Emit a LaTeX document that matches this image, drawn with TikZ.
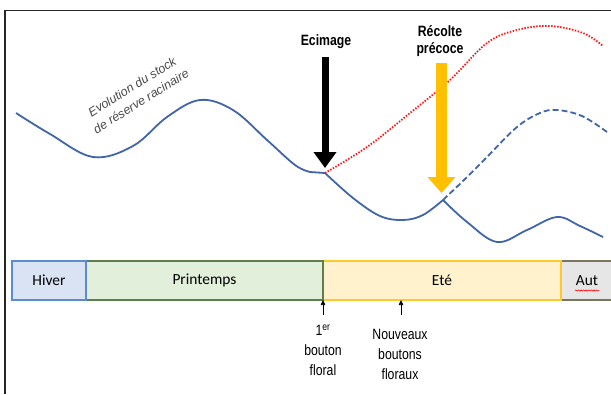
\documentclass[tikz,border=0pt]{standalone}
\usepackage{fontspec}
\setmainfont{Liberation Sans}
\newfontfamily\narrowf[FakeStretch=0.82]{Liberation Sans}
\newfontfamily\carl{Carlito}
\usetikzlibrary{arrows.meta,decorations.pathmorphing}
\definecolor{cblue}{HTML}{4066A8}
\definecolor{cred}{HTML}{FF1A1A}
\definecolor{corange}{HTML}{FFC000}
\definecolor{txtgray}{HTML}{4A4A4A}
\definecolor{hfill}{HTML}{DAE3F3}
\definecolor{hdraw}{HTML}{5B8BD0}
\definecolor{pfill}{HTML}{E2EFDA}
\definecolor{pdraw}{HTML}{5E7F4A}
\definecolor{efill}{HTML}{FFF2CC}
\definecolor{edraw}{HTML}{FFC92E}
\definecolor{afill}{HTML}{E7E6E6}
\definecolor{adraw}{HTML}{7A7460}
\tikzset{
  curve/.style={line width=1.8bp, line join=round},
  season/.style={line width=1.3bp, minimum height=39bp, inner sep=0pt, outer sep=0pt,
    font=\carl\fontsize{15.5}{18}\selectfont},
  boldlab/.style={font=\narrowf\bfseries\fontsize{15}{17}\selectfont, align=center, inner sep=0pt},
  smalllab/.style={font=\narrowf\fontsize{15}{20}\selectfont, align=center, inner sep=0pt},
  smallarrow/.style={line width=0.6bp, -{Triangle[length=5bp,width=4.5bp]}}
}
\begin{document}
\begin{tikzpicture}[x=1bp,y=-1bp]
\useasboundingbox (0,0) rectangle (611,394);
\fill[white] (0,0) rectangle (611,394);
% frame
\draw[black!85, line width=1.3bp] (5,394) -- (5,10.5) -- (611,10.5);

% season bar
\node[season, fill=afill, draw=adraw, minimum width=52bp] (aut) at (587,280.5) {Aut};
\node[season, fill=efill, draw=edraw, minimum width=238bp] (ete) at (442,280.5) {Eté};
\node[season, fill=pfill, draw=pdraw, minimum width=237bp] (print) at (204.5,280.5) {Printemps};
\node[season, fill=hfill, draw=hdraw, minimum width=74bp] (hiver) at (49,280.5) {Hiver};
\draw[red, line width=0.6bp, decorate, decoration={snake, amplitude=0.6bp, segment length=2.6bp}]
  ([xshift=-12bp,yshift=-10bp]aut.center) -- ([xshift=12bp,yshift=-10bp]aut.center);

% curve points
\coordinate (ec) at (325,173);
\coordinate (rc) at (443,200);

% solid curve
\draw[cblue, curve] plot[smooth, tension=0.6] coordinates
  {(16,113) (50,134) (93,157) (133,146) (167,117) (200,100) (233,110) (267,140) (295,165) (310,172)}
  -- (ec);
\draw[cblue, curve] plot[smooth, tension=0.6] coordinates
  {(325,173) (353,198) (380,216) (403,220) (423,215) (443,200)};
\draw[cblue, curve] plot[smooth, tension=0.6] coordinates
  {(443,200) (467,222) (497,242) (527,230) (557,217) (580,226) (603,237)};
% dashed continuation
\draw[cblue, curve, dash pattern=on 6bp off 3bp] plot[smooth, tension=0.6] coordinates
  {(443,200) (465,179) (487,157) (517,127) (540,113) (557,110) (582,116) (607,132)};
% red dotted
\draw[cred, curve, dash pattern=on 1.5bp off 1.5bp] plot[smooth, tension=0.6] coordinates
  {(325,173) (367,147) (410,113) (450,80) (487,43) (517,30) (550,26) (583,33) (603,46)};

% big arrows
\coordinate (ectop) at (325,57);
\coordinate (ectip) at (325,168);
\draw[black, line width=7bp, -{Triangle[length=16bp,width=22bp]}] (ectop) -- (ectip);
\coordinate (rctop) at (441.5,63);
\coordinate (rctip) at (441.5,193);
\draw[corange, line width=11bp, -{Triangle[length=16bp,width=27bp]}] (rctop) -- (rctip);

% labels
\node[boldlab] (ecim) at (326,42) {Ecimage};
\node[boldlab] (recol) at (440,41) {Récolte\\précoce};
\node[rotate=32, text=txtgray, font=\itshape\fontsize{12.5}{17}\selectfont, align=center, inner sep=0pt]
  (evo) at (136.5,94) {Evolution du stock\\de réserve racinaire};

% small arrows and labels
\coordinate (b1s) at (323,315);
\coordinate (b1t) at (323,300);
\coordinate (b2s) at (401,315);
\coordinate (b2t) at (401,300);
\draw[smallarrow] (b1s) -- (b1t);
\draw[smallarrow] (b2s) -- (b2t);
\node[smalllab] (bout1) at (323,350) {1\textsuperscript{er}\\bouton\\floral};
\node[smalllab] (bout2) at (400,354) {Nouveaux\\boutons\\floraux};
\end{tikzpicture}
\end{document}
